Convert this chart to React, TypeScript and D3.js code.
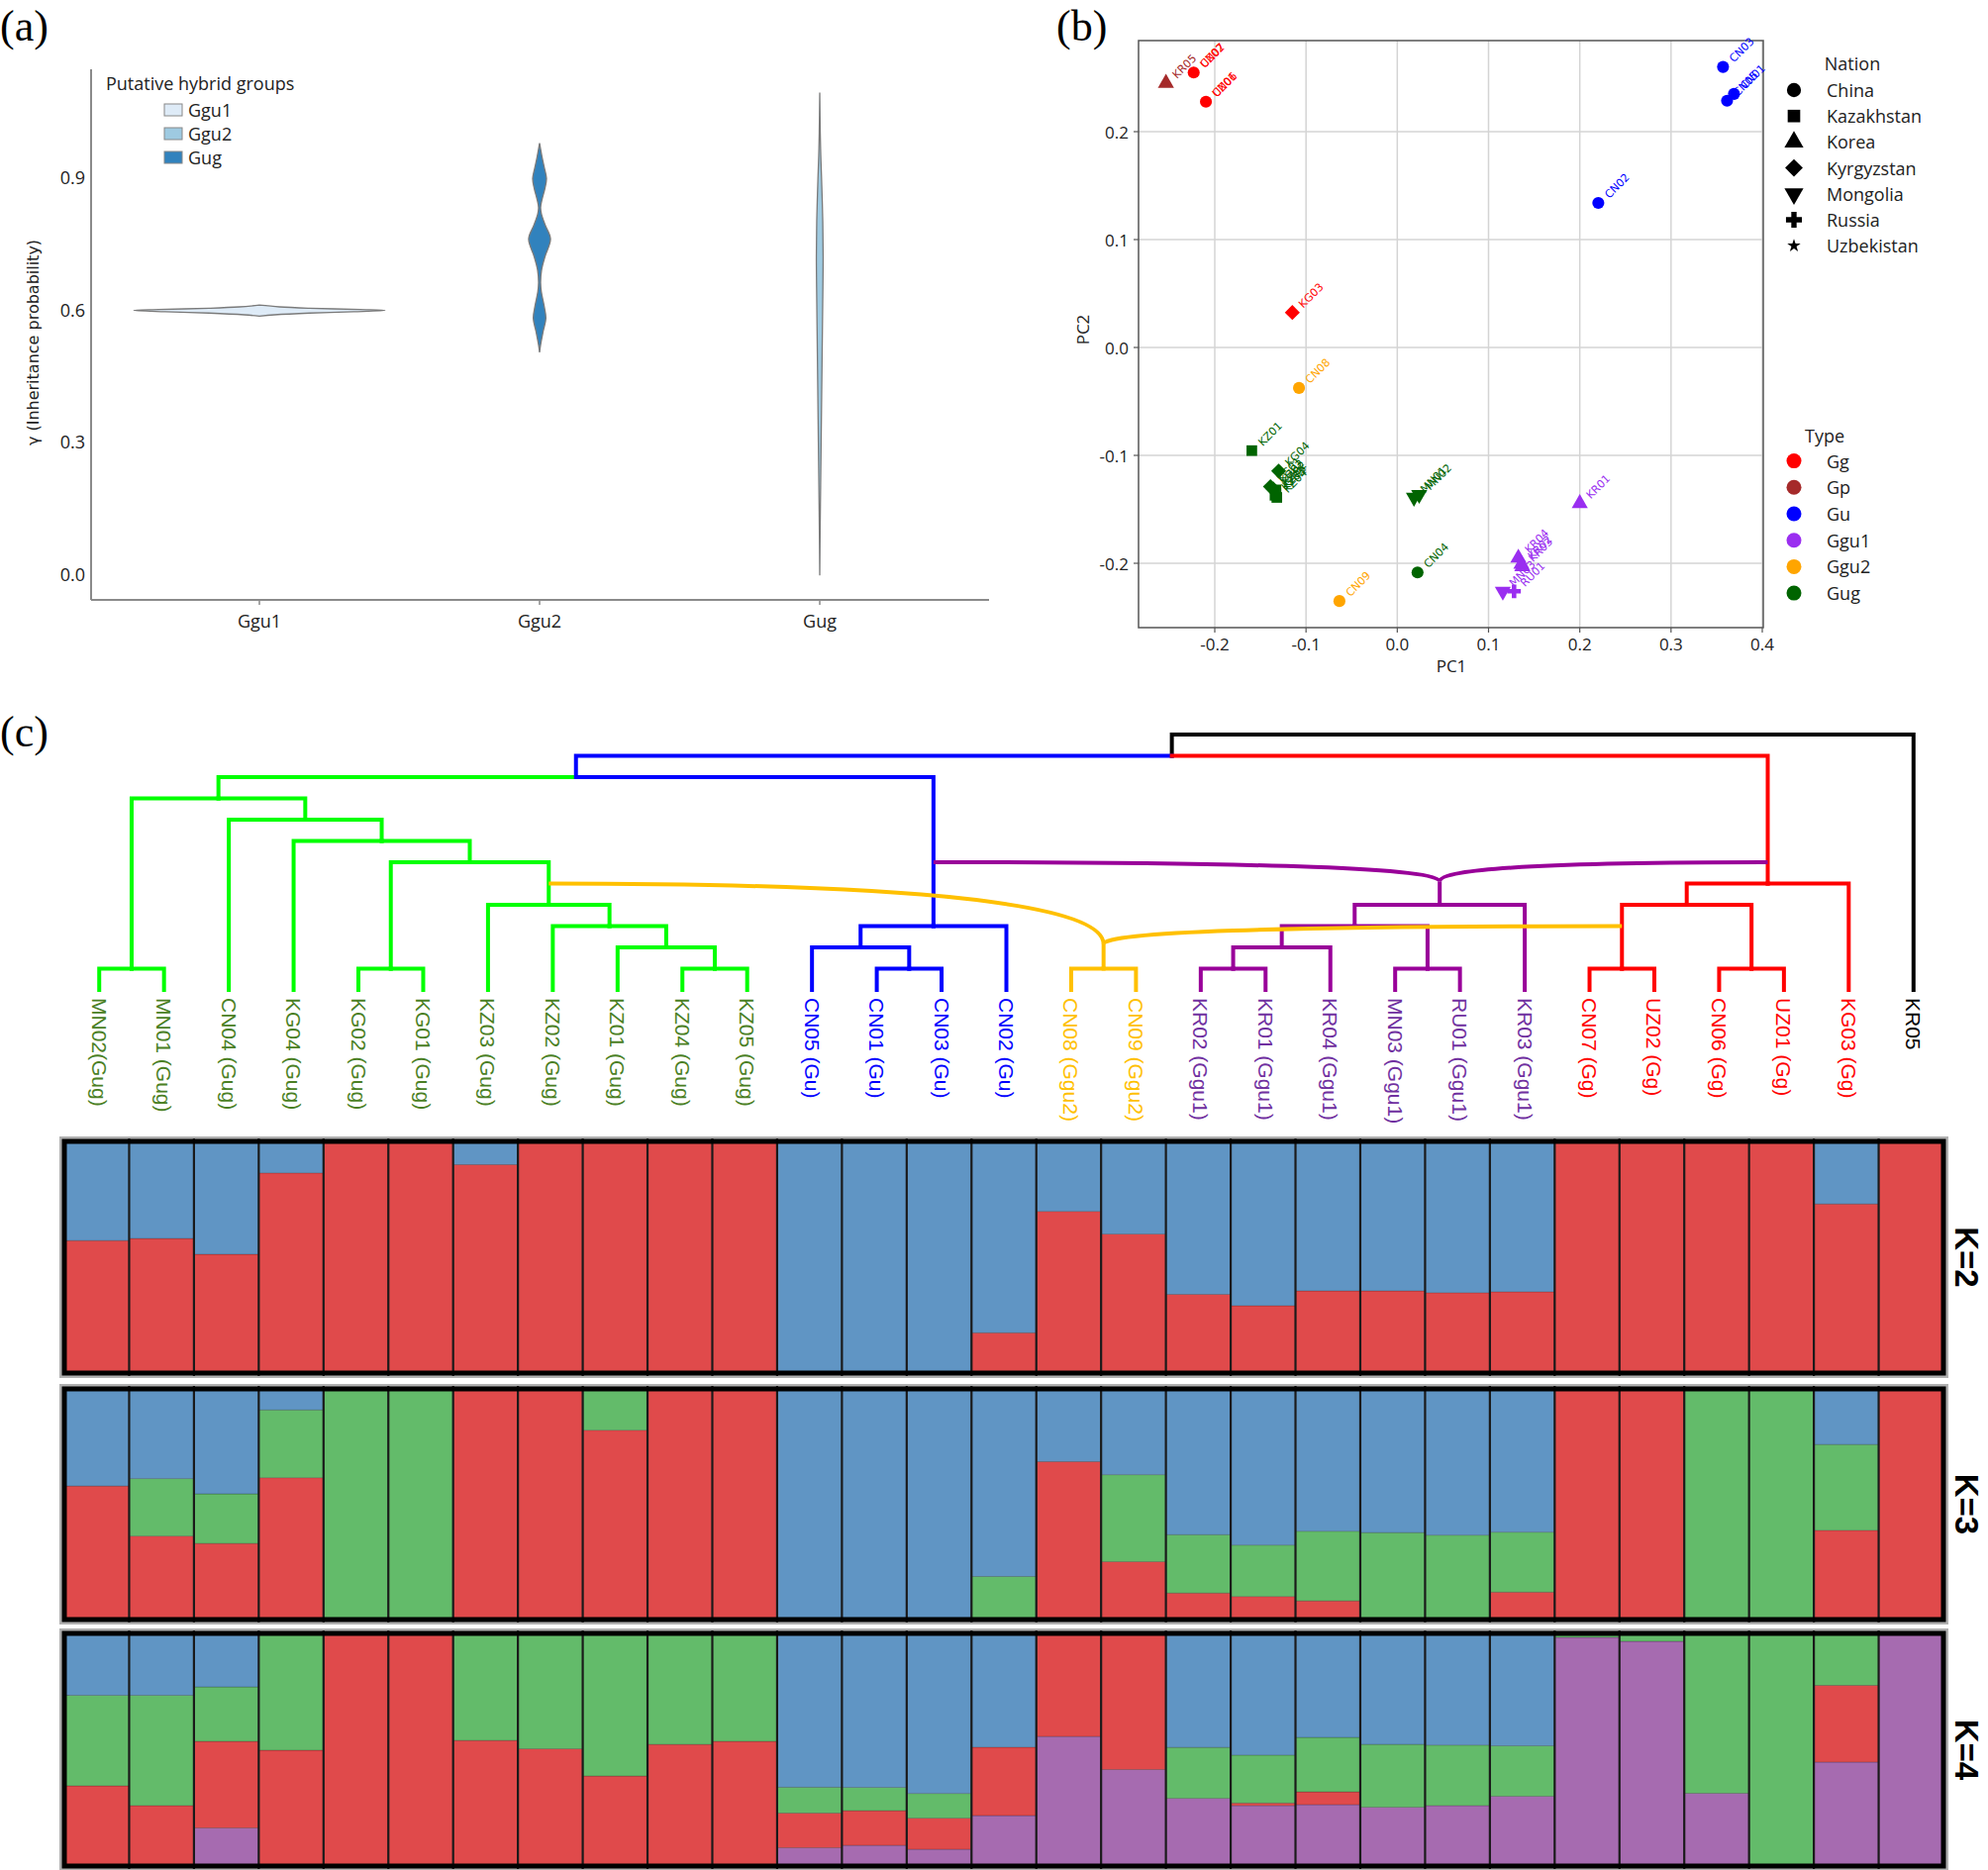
import * as d3 from "d3";

// ---------- (a) violin data ----------
const violinGroups = ["Ggu1", "Ggu2", "Gug"];
const violinFill = ["#deebf7", "#3182bd", "#9ecae1"];
const legendGroups = ["Ggu1", "Ggu2", "Gug"];
const legendFill = ["#deebf7", "#9ecae1", "#3182bd"];
// [gamma, relative density]
const ggu1Density = [
  [0.585, 0], [0.588, 0.12], [0.592, 0.4], [0.595, 0.75], [0.598, 1],
  [0.6, 0.8], [0.603, 0.4], [0.606, 0.16], [0.61, 0],
];
const ggu2Density = [
  [0.503, 0], [0.52, 0.008], [0.55, 0.028], [0.58, 0.05], [0.61, 0.035],
  [0.64, 0.014], [0.661, 0.008], [0.69, 0.016], [0.72, 0.043], [0.76, 0.087],
  [0.79, 0.047], [0.815, 0.016], [0.831, 0.008], [0.85, 0.02], [0.875, 0.043],
  [0.897, 0.055], [0.92, 0.039], [0.945, 0.02], [0.977, 0],
];
const gugDensity = [
  [-0.003, 0], [0.1, 0.003], [0.2, 0.007], [0.35, 0.013], [0.5, 0.019],
  [0.65, 0.025], [0.72, 0.027], [0.8, 0.024], [0.9, 0.014], [0.95, 0.008],
  [1.0, 0.004], [1.092, 0],
];
const violinDensities = [ggu1Density, ggu2Density, gugDensity];
const gammaTicks = [0, 0.3, 0.6, 0.9];

// ---------- (b) PCA data ----------
const pcaSamples = [
  "KR05", "CN07", "UZ02", "CN06", "UZ01", "KG03", "CN08", "CN09", "KZ01", "KG04",
  "KG01", "KG02", "KZ02", "KZ03", "KZ04", "KZ05", "MN01", "MN02", "CN04", "KR01",
  "KR04", "KR02", "KR03", "MN03", "RU01", "CN03", "CN01", "CN05", "CN02",
];
const pcaPC1 = [
  -0.2535, -0.2231, -0.2231, -0.2097, -0.2097, -0.115, -0.1077, -0.0634, -0.1594, -0.13,
  -0.139, -0.136, -0.133, -0.134, -0.132, -0.133, 0.0183, 0.024, 0.0222, 0.2,
  0.1327, 0.136, 0.137, 0.1157, 0.128, 0.357, 0.369, 0.3614, 0.2203,
];
const pcaPC2 = [
  0.245, 0.2548, 0.2548, 0.2278, 0.2278, 0.0324, -0.0375, -0.235, -0.0956, -0.1145,
  -0.129, -0.131, -0.132, -0.137, -0.139, -0.135, -0.139, -0.1364, -0.2085, -0.1445,
  -0.195, -0.2008, -0.203, -0.226, -0.226, 0.26, 0.235, 0.2287, 0.134,
];
const pcaType = [
  "Gp", "Gg", "Gg", "Gg", "Gg", "Gg", "Ggu2", "Ggu2", "Gug", "Gug",
  "Gug", "Gug", "Gug", "Gug", "Gug", "Gug", "Gug", "Gug", "Gug", "Ggu1",
  "Ggu1", "Ggu1", "Ggu1", "Ggu1", "Ggu1", "Gu", "Gu", "Gu", "Gu",
];
const pcaNation = [
  "Korea", "China", "Uzbekistan", "China", "Uzbekistan", "Kyrgyzstan", "China", "China", "Kazakhstan", "Kyrgyzstan",
  "Kyrgyzstan", "Kyrgyzstan", "Kazakhstan", "Kazakhstan", "Kazakhstan", "Kazakhstan", "Mongolia", "Mongolia", "China", "Korea",
  "Korea", "Korea", "Korea", "Mongolia", "Russia", "China", "China", "China", "China",
];
const nations = ["China", "Kazakhstan", "Korea", "Kyrgyzstan", "Mongolia", "Russia", "Uzbekistan"];
const types = ["Gg", "Gp", "Gu", "Ggu1", "Ggu2", "Gug"];
const typeColors = ["#ff0000", "#a52a2a", "#0000ff", "#9a2ef0", "#ffa500", "#006400"];
const pc1Ticks = [-0.2, -0.1, 0.0, 0.1, 0.2, 0.3, 0.4];
const pc2Ticks = [-0.2, -0.1, 0.0, 0.1, 0.2];

// ---------- (c) tree + admixture ----------
const leaves = [
  "MN02", "MN01", "CN04", "KG04", "KG02", "KG01", "KZ03", "KZ02", "KZ01", "KZ04",
  "KZ05", "CN05", "CN01", "CN03", "CN02", "CN08", "CN09", "KR02", "KR01", "KR04",
  "MN03", "RU01", "KR03", "CN07", "UZ02", "CN06", "UZ01", "KG03", "KR05",
];
const leafLabels = [
  "MN02(Gug)", "MN01 (Gug)", "CN04 (Gug)", "KG04 (Gug)", "KG02 (Gug)", "KG01 (Gug)", "KZ03 (Gug)", "KZ02 (Gug)", "KZ01 (Gug)", "KZ04 (Gug)",
  "KZ05 (Gug)", "CN05 (Gu)", "CN01 (Gu)", "CN03 (Gu)", "CN02 (Gu)", "CN08 (Ggu2)", "CN09 (Ggu2)", "KR02 (Ggu1)", "KR01 (Ggu1)", "KR04 (Ggu1)",
  "MN03 (Ggu1)", "RU01 (Ggu1)", "KR03 (Ggu1)", "CN07 (Gg)", "UZ02 (Gg)", "CN06 (Gg)", "UZ01 (Gg)", "KG03 (Gg)", "KR05",
];
const leafGroups = [
  "Gug", "Gug", "Gug", "Gug", "Gug", "Gug", "Gug", "Gug", "Gug", "Gug",
  "Gug", "Gu", "Gu", "Gu", "Gu", "Ggu2", "Ggu2", "Ggu1", "Ggu1", "Ggu1",
  "Ggu1", "Ggu1", "Ggu1", "Gg", "Gg", "Gg", "Gg", "Gg", "out",
];
// [node, height level, children, group]
const treeNodes: [string, number, string[], string][] = [
  ["root", 12, ["A", "KR05"], "out"],
  ["A", 11, ["B", "R"], "out"],
  ["B", 10, ["G", "U"], "Gu"],
  ["G", 9, ["g1", "g8"], "Gug"],
  ["g1", 1, ["MN02", "MN01"], "Gug"],
  ["g8", 8, ["CN04", "g7"], "Gug"],
  ["g7", 7, ["KG04", "g6"], "Gug"],
  ["g6", 6, ["gKG", "g4"], "Gug"],
  ["gKG", 1, ["KG02", "KG01"], "Gug"],
  ["g4", 4, ["KZ03", "g3"], "Gug"],
  ["g3", 3, ["KZ02", "g2"], "Gug"],
  ["g2", 2, ["KZ01", "gKZ"], "Gug"],
  ["gKZ", 1, ["KZ04", "KZ05"], "Gug"],
  ["U", 3, ["u2", "CN02"], "Gu"],
  ["u2", 2, ["CN05", "u1"], "Gu"],
  ["u1", 1, ["CN01", "CN03"], "Gu"],
  ["O", 1, ["CN08", "CN09"], "Ggu2"],
  ["P", 4, ["p3", "KR03"], "Ggu1"],
  ["p3", 3, ["p2", "p1b"], "Ggu1"],
  ["p2", 2, ["p1a", "KR04"], "Ggu1"],
  ["p1a", 1, ["KR02", "KR01"], "Ggu1"],
  ["p1b", 1, ["MN03", "RU01"], "Ggu1"],
  ["R", 5, ["r4", "KG03"], "Gg"],
  ["r4", 4, ["r1a", "r1b"], "Gg"],
  ["r1a", 1, ["CN07", "UZ02"], "Gg"],
  ["r1b", 1, ["CN06", "UZ01"], "Gg"],
];
// [hybrid node, hybrid level, host edge (node), attach level]
const hybridEdges: [string, number, string, number][] = [
  ["P", 5.1, "U", 6],
  ["P", 5.1, "R", 6],
  ["O", 2.15, "g4", 5],
  ["O", 2.15, "r1a", 3],
];

const k2Red = [0.572, 0.581, 0.513, 0.864, 1, 1, 0.9, 1, 1, 1, 1, 0, 0, 0, 0.174, 0.698, 0.6, 0.34, 0.291, 0.355, 0.355, 0.347, 0.351, 1, 1, 1, 1, 0.73, 1];
const k2Blue = [0.428, 0.419, 0.487, 0.136, 0, 0, 0.1, 0, 0, 0, 0, 1, 1, 1, 0.826, 0.302, 0.4, 0.66, 0.709, 0.645, 0.645, 0.653, 0.649, 0, 0, 0, 0, 0.27, 0];

const k3Red = [0.579, 0.362, 0.33, 0.615, 0, 0, 1, 1, 0.821, 1, 1, 0, 0, 0, 0, 0.685, 0.251, 0.115, 0.1, 0.081, 0, 0, 0.119, 1, 1, 0, 0, 0.387, 1];
const k3Green = [0, 0.249, 0.215, 0.294, 1, 1, 0, 0, 0.179, 0, 0, 0, 0, 0, 0.187, 0, 0.377, 0.253, 0.223, 0.302, 0.377, 0.366, 0.26, 0, 0, 1, 1, 0.372, 0];
const k3Blue = [0.421, 0.389, 0.455, 0.091, 0, 0, 0, 0, 0, 0, 0, 1, 1, 1, 0.813, 0.315, 0.372, 0.632, 0.677, 0.617, 0.623, 0.634, 0.621, 0, 0, 0, 0, 0.241, 0];

const k4Purple = [0, 0, 0.164, 0, 0, 0, 0, 0, 0, 0, 0, 0.079, 0.089, 0.072, 0.217, 0.557, 0.415, 0.291, 0.26, 0.264, 0.253, 0.26, 0.3, 0.983, 0.966, 0.313, 0, 0.447, 1];
const k4Red = [0.345, 0.26, 0.372, 0.498, 1, 1, 0.54, 0.504, 0.387, 0.523, 0.536, 0.149, 0.149, 0.134, 0.294, 0.443, 0.585, 0, 0.011, 0.055, 0, 0, 0, 0, 0, 0, 0, 0.33, 0];
const k4Green = [0.389, 0.474, 0.234, 0.502, 0, 0, 0.46, 0.496, 0.613, 0.477, 0.464, 0.111, 0.1, 0.106, 0, 0, 0, 0.219, 0.206, 0.234, 0.27, 0.26, 0.217, 0.017, 0.034, 0.687, 1, 0.223, 0];
const k4Blue = [0.266, 0.266, 0.23, 0, 0, 0, 0, 0, 0, 0, 0, 0.661, 0.662, 0.688, 0.489, 0, 0, 0.49, 0.523, 0.447, 0.477, 0.48, 0.483, 0, 0, 0, 0, 0, 0];

const kLabels = ["K=2", "K=3", "K=4"];

const clusterColor: Record<string, string> = {
  red: "#e04a4b", blue: "#6095c4", green: "#63bb6a", purple: "#a66bb0",
};
const treeColor: Record<string, string> = {
  Gug: "#00ff00", Gu: "#0000ff", Ggu2: "#ffc000", Ggu1: "#990099", Gg: "#ff0000", out: "#000000",
};
const labelColor: Record<string, string> = {
  Gug: "#4a7f24", Gu: "#0000ff", Ggu2: "#ffc000", Ggu1: "#7030a0", Gg: "#ff0000", out: "#000000",
};

const sans = "'Open Sans', 'Noto Sans', sans-serif";
const dejavu = "'DejaVu Sans', sans-serif";
const arial = "'Liberation Sans', Arial, sans-serif";
const serif = "'Liberation Serif', 'Times New Roman', serif";

function PanelA() {
  const y = d3.scaleLinear().domain([0, 0.9]).range([580, 179]);
  const x = d3.scalePoint<string>().domain(violinGroups).range([262, 828]);
  const w = d3.scaleLinear().domain([0, 1]).range([0, 127]);

  return (
    <g>
      {violinGroups.map((g, i) => {
        const cx = x(g)!;
        const area = d3
          .area<number[]>()
          .curve(d3.curveCatmullRom)
          .y((d) => y(d[0]))
          .x0((d) => cx - w(d[1]))
          .x1((d) => cx + w(d[1]));
        return (
          <path key={g} d={area(violinDensities[i])!} fill={violinFill[i]} stroke="#7a7a7a" strokeWidth={1.3} />
        );
      })}
      <line x1={92} x2={92} y1={70} y2={606} stroke="#8a8a8a" strokeWidth={2} />
      <line x1={92} x2={999} y1={606} y2={606} stroke="#8a8a8a" strokeWidth={2} />
      {gammaTicks.map((t) => (
        <text key={t} x={86} y={y(t)} textAnchor="end" dominantBaseline="central" fontFamily={sans} fontSize={18} fill="#222">
          {t.toFixed(1)}
        </text>
      ))}
      {violinGroups.map((g) => (
        <g key={g}>
          <line x1={x(g)} x2={x(g)} y1={606} y2={611} stroke="#8a8a8a" strokeWidth={1.5} />
          <text x={x(g)} y={627} textAnchor="middle" dominantBaseline="central" fontFamily={sans} fontSize={18} fill="#222">
            {g}
          </text>
        </g>
      ))}
      <text transform="translate(33,346) rotate(-90)" textAnchor="middle" dominantBaseline="central" fontFamily={dejavu} fontSize={16} fill="#222">
        γ (Inheritance probability)
      </text>
      <text x={107} y={84} dominantBaseline="central" fontFamily={sans} fontSize={18} fill="#222">
        Putative hybrid groups
      </text>
      {legendGroups.map((g, i) => (
        <g key={g}>
          <rect x={166} y={111 + i * 24 - 6} width={18} height={12} fill={legendFill[i]} stroke="#888" strokeWidth={1} />
          <text x={190} y={111 + i * 24} dominantBaseline="central" fontFamily={sans} fontSize={18} fill="#222">
            {g}
          </text>
        </g>
      ))}
    </g>
  );
}

function markerPath(nation: string, size: number) {
  const sym: Record<string, d3.SymbolType> = {
    China: d3.symbolCircle, Kazakhstan: d3.symbolSquare, Korea: d3.symbolTriangle,
    Kyrgyzstan: d3.symbolSquare, Mongolia: d3.symbolTriangle, Russia: d3.symbolCross,
    Uzbekistan: d3.symbolStar,
  };
  const s = nation === "Uzbekistan" ? size * 0.35 : nation === "Russia" ? size * 0.9 : size;
  return d3.symbol(sym[nation], s)()!;
}
function markerRotate(nation: string) {
  return nation === "Kyrgyzstan" ? 45 : nation === "Mongolia" ? 180 : 0;
}

function PanelB() {
  const x = d3.scaleLinear().domain([-0.2, 0.4]).range([1227, 1780]);
  const y = d3.scaleLinear().domain([-0.2, 0.2]).range([569, 133]);
  const color = d3.scaleOrdinal<string, string>().domain(types).range(typeColors);
  const left = 1150, right = 1781, top = 41, bottom = 634;

  return (
    <g>
      {pc1Ticks.map((t) => (
        <line key={"gx" + t} x1={x(t)} x2={x(t)} y1={top} y2={bottom} stroke="#d4d4d4" strokeWidth={1.5} />
      ))}
      {pc2Ticks.map((t) => (
        <line key={"gy" + t} x1={left} x2={right} y1={y(t)} y2={y(t)} stroke="#d4d4d4" strokeWidth={1.5} />
      ))}
      <rect x={left} y={top} width={right - left} height={bottom - top} fill="none" stroke="#555" strokeWidth={1.5} />
      {pc1Ticks.map((t) => (
        <g key={"tx" + t}>
          <line x1={x(t)} x2={x(t)} y1={bottom} y2={bottom + 5} stroke="#555" strokeWidth={1.2} />
          <text x={x(t)} y={650} textAnchor="middle" dominantBaseline="central" fontFamily={sans} fontSize={17} fill="#222">
            {t.toFixed(1)}
          </text>
        </g>
      ))}
      {pc2Ticks.map((t) => (
        <g key={"ty" + t}>
          <line x1={left - 5} x2={left} y1={y(t)} y2={y(t)} stroke="#555" strokeWidth={1.2} />
          <text x={1140} y={y(t)} textAnchor="end" dominantBaseline="central" fontFamily={sans} fontSize={17} fill="#222">
            {t.toFixed(1)}
          </text>
        </g>
      ))}
      <text x={1466} y={672} textAnchor="middle" dominantBaseline="central" fontFamily={sans} fontSize={17} fill="#222">PC1</text>
      <text transform="translate(1093,333) rotate(-90)" textAnchor="middle" dominantBaseline="central" fontFamily={sans} fontSize={17} fill="#222">PC2</text>
      {pcaSamples.map((s, i) => {
        const px = x(pcaPC1[i]);
        const py = y(pcaPC2[i]);
        return (
          <g key={s}>
            <path d={markerPath(pcaNation[i], 115)} transform={`translate(${px},${py}) rotate(${markerRotate(pcaNation[i])})`} fill={color(pcaType[i])} />
            <text transform={`translate(${px + 11},${py - 4}) rotate(-45)`} fontFamily={dejavu} fontSize={11} fill={color(pcaType[i])}>
              {s}
            </text>
          </g>
        );
      })}
      <text x={1871} y={64} textAnchor="middle" dominantBaseline="central" fontFamily={sans} fontSize={18} fill="#222">Nation</text>
      {nations.map((n, i) => (
        <g key={n}>
          <path d={markerPath(n, 160)} transform={`translate(1812,${91 + i * 26.2}) rotate(${markerRotate(n)})`} fill="#000" />
          <text x={1845} y={91 + i * 26.2} dominantBaseline="central" fontFamily={sans} fontSize={18} fill="#222">{n}</text>
        </g>
      ))}
      <text x={1843} y={440} textAnchor="middle" dominantBaseline="central" fontFamily={sans} fontSize={18} fill="#222">Type</text>
      {types.map((t, i) => (
        <g key={t}>
          <circle cx={1812} cy={465.6 + i * 26.7} r={7.5} fill={color(t)} />
          <text x={1845} y={465.6 + i * 26.7} dominantBaseline="central" fontFamily={sans} fontSize={18} fill="#222">{t}</text>
        </g>
      ))}
    </g>
  );
}

function PanelC() {
  const xb = d3.scaleBand<string>().domain(leaves).range([65, 1963]).paddingInner(0);
  const bw = xb.bandwidth();
  const yT = d3.scaleLinear().domain([0, 12]).range([1000, 742]);

  const nodeMap = new Map(treeNodes.map(([id, h, ch, g]) => [id, { id, h, ch, g }]));
  const parentOf = new Map<string, string>();
  treeNodes.forEach(([id, , ch]) => ch.forEach((c) => parentOf.set(c, id)));
  const xOf = (id: string): number => {
    const n = nodeMap.get(id);
    if (!n) return xb(id)! + bw / 2 + 2.5;
    return d3.mean(n.ch, xOf)!;
  };
  const hOf = (id: string) => nodeMap.get(id)?.h ?? 0;
  const groupOf = (id: string) => nodeMap.get(id)?.g ?? leafGroups[leaves.indexOf(id)];

  const edges = [...parentOf.entries()].map(([c, p]) => ({
    id: c,
    d: `M${xOf(p)},${yT(hOf(p))}H${xOf(c)}V${yT(hOf(c))}`,
    color: treeColor[groupOf(c)],
  }));
  const hybridLevel = new Map(hybridEdges.map(([h, lv]) => [h, lv]));
  const hybridStems = [...hybridLevel.entries()].map(([h, lv]) => ({
    id: h,
    d: `M${xOf(h)},${yT(lv)}V${yT(hOf(h))}`,
    color: treeColor[groupOf(h)],
  }));
  const hybridCurves = hybridEdges.map(([h, lv, host, at]) => {
    const hx = xOf(h);
    const sx = xOf(host);
    return {
      id: h + host,
      d: `M${sx},${yT(at)}Q${hx},${yT(at)} ${hx},${yT(lv)}`,
      color: treeColor[groupOf(h)],
    };
  });

  const panels = [
    { keys: ["red", "blue"], cols: [k2Red, k2Blue], top: 1153, bottom: 1387 },
    { keys: ["red", "green", "blue"], cols: [k3Red, k3Green, k3Blue], top: 1403, bottom: 1636 },
    { keys: ["purple", "red", "green", "blue"], cols: [k4Purple, k4Red, k4Green, k4Blue], top: 1650, bottom: 1885 },
  ];

  return (
    <g>
      {edges.map((e) => (
        <path key={e.id} d={e.d} fill="none" stroke={e.color} strokeWidth={4} strokeLinecap="square" />
      ))}
      {hybridStems.map((e) => (
        <path key={"s" + e.id} d={e.d} fill="none" stroke={e.color} strokeWidth={4} />
      ))}
      {hybridCurves.map((e) => (
        <path key={e.id} d={e.d} fill="none" stroke={e.color} strokeWidth={4} />
      ))}
      {leaves.map((l, i) => (
        <text
          key={l}
          transform={`translate(${xOf(l)},1008) rotate(90)`}
          dominantBaseline="central"
          fontFamily={arial}
          fontSize={21}
          fill={labelColor[leafGroups[i]]}
        >
          {leafLabels[i]}
        </text>
      ))}
      {panels.map((p, pi) => {
        const rows = leaves.map((l, i) => {
          const r: Record<string, number | string> = { leaf: l };
          p.keys.forEach((k, ki) => (r[k] = p.cols[ki][i]));
          return r;
        });
        const series = d3.stack<Record<string, number | string>>().keys(p.keys)(rows as any);
        const y = d3.scaleLinear().domain([0, 1]).range([p.bottom, p.top]);
        return (
          <g key={pi}>
            <rect x={65} y={p.top} width={1898} height={p.bottom - p.top} fill="none" stroke="#b0b0b0" strokeWidth={10} />
            {series.map((s) =>
              s.map((d, i) =>
                d[1] - d[0] > 0 ? (
                  <rect
                    key={s.key + i}
                    x={xb(leaves[i])}
                    y={y(d[1])}
                    width={bw}
                    height={y(d[0]) - y(d[1])}
                    fill={clusterColor[s.key]}
                    stroke="rgba(0,0,0,0.25)"
                    strokeWidth={0.8}
                  />
                ) : null
              )
            )}
            {leaves.slice(1).map((l) => (
              <line key={l} x1={xb(l)} x2={xb(l)} y1={p.top - 3} y2={p.bottom + 3} stroke="#1a1a1a" strokeWidth={2.2} />
            ))}
            <rect x={65} y={p.top} width={1898} height={p.bottom - p.top} fill="none" stroke="#000" strokeWidth={5} />
            <text
              transform={`translate(1986,${(p.top + p.bottom) / 2}) rotate(90)`}
              textAnchor="middle"
              dominantBaseline="central"
              fontFamily={arial}
              fontWeight="bold"
              fontSize={33}
              fill="#000"
            >
              {kLabels[pi]}
            </text>
          </g>
        );
      })}
    </g>
  );
}

export default function App() {
  return (
    <svg
      width={2008}
      height={1889}
      viewBox="0 0 2008 1889"
      style={{ position: "absolute", left: 0, top: 0, background: "#fff" }}
    >
      <rect width={2008} height={1889} fill="#fff" />
      <text x={0} y={41} fontFamily={serif} fontSize={44} fill="#000">(a)</text>
      <text x={1067} y={41} fontFamily={serif} fontSize={44} fill="#000">(b)</text>
      <text x={0} y={754} fontFamily={serif} fontSize={44} fill="#000">(c)</text>
      <PanelA />
      <PanelB />
      <PanelC />
    </svg>
  );
}
